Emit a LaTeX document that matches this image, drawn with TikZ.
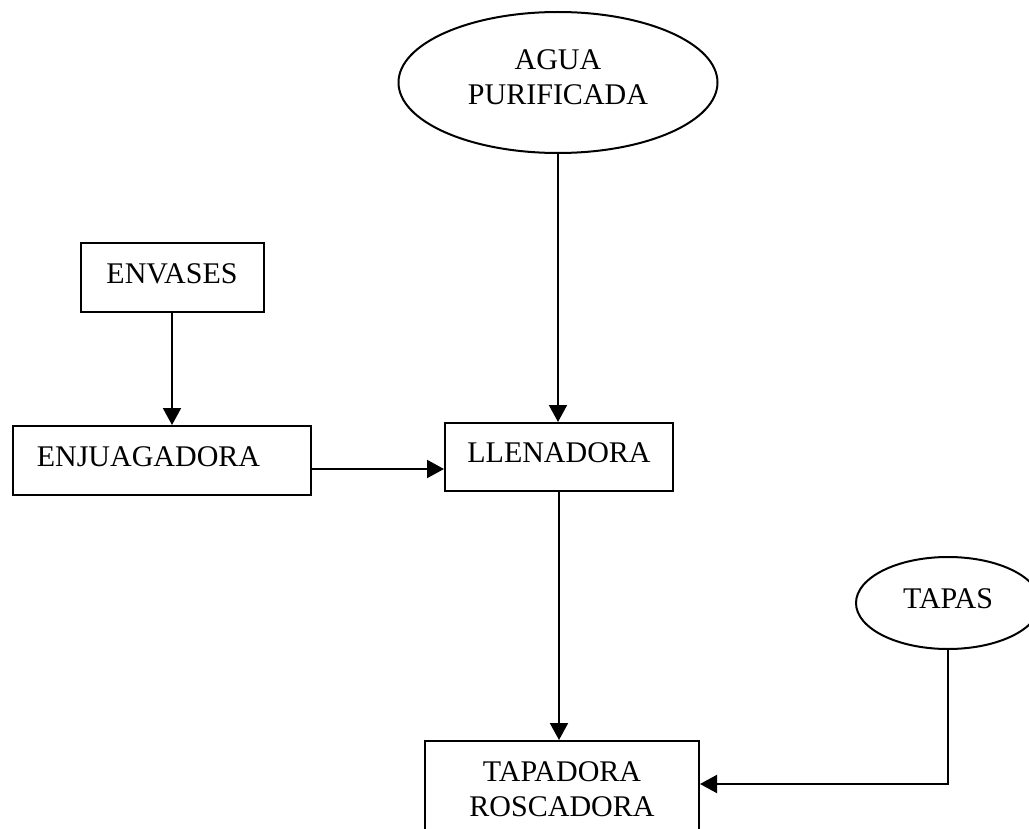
\documentclass[tikz,border=0pt]{standalone}
\usepackage{fontspec}
\setmainfont{Liberation Serif}
\usetikzlibrary{shapes.geometric,arrows.meta}
\begin{document}
\begin{tikzpicture}[x=0.5pt,y=-0.5pt,
  every node/.style={font=\fontsize{15}{17.5}\selectfont, inner sep=0pt, line width=1pt},
  boxnode/.style={draw, rectangle, text height=9.9pt, text depth=4pt},
  ovalnode/.style={draw, ellipse, align=center},
  arr/.style={line width=1pt, -{Triangle[length=8.5pt,width=9pt]}}]
\useasboundingbox (0,0) rectangle (1029,829);
\fill[white] (0,0) rectangle (1029,829);

\node[ovalnode, minimum width=159.5pt, minimum height=70.5pt] (agua) at (558,82.5)
  {AGUA\\PURIFICADA\rule[-5pt]{0pt}{5pt}};
\node[boxnode, minimum width=91.5pt, minimum height=34.5pt] (envases) at (172,277.5) {ENVASES};
\node[boxnode, minimum width=149pt, minimum height=34.5pt] (enj) at (162,460.5) {ENJUAGADORA\rule{13.5pt}{0pt}};
\node[boxnode, minimum width=114pt, minimum height=34pt] (lle) at (559,457) {LLENADORA};
\node[draw, rectangle, align=center, minimum width=137pt, minimum height=52pt] (tap) at (562,793)
  {TAPADORA\\ROSCADORA\rule[-4pt]{0pt}{4pt}};
\node[ovalnode, minimum width=92pt, minimum height=46pt] (tapas) at (948,603)
  {TAPAS\rule[-4pt]{0pt}{4pt}};

\draw[arr] (agua.south) -- (agua.south |- lle.north);
\draw[arr] (envases.south) -- (envases.south |- enj.north);
\coordinate (h1) at ([yshift=-4.25pt]enj.east);
\draw[arr] (h1) -- (h1 -| lle.west);
\draw[arr] (lle.south) -- (lle.south |- tap.north);
\coordinate (h2) at ([yshift=4.5pt]tap.east);
\draw[arr] (tapas.south) |- (h2);
\end{tikzpicture}
\end{document}
